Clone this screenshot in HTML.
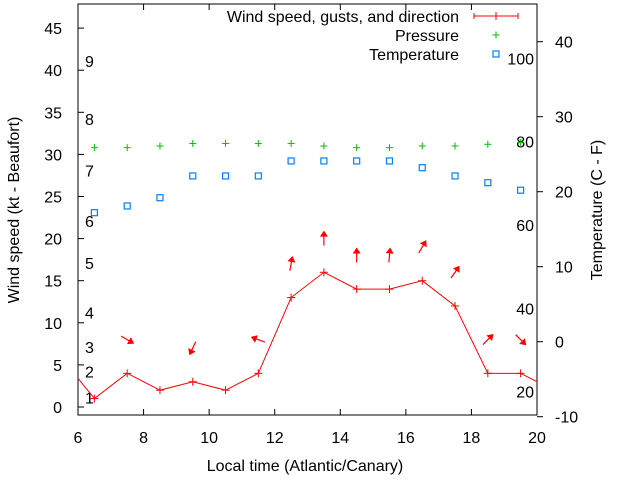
<!DOCTYPE html>
<html><head><meta charset="utf-8"><style>
body{margin:0;background:#fff}
svg{display:block;font-family:"Liberation Sans",sans-serif;font-size:16px}
</style></head><body>
<svg id="c" width="640" height="480"></svg>
<script>
const hours=[5.5,6.5,7.5,8.5,9.5,10.5,11.5,12.5,13.5,14.5,15.5,16.5,17.5,18.5,19.5,20.5];
const windKt=[5.8,1,4,2,3,2,4,13,16,14,14,15,12,4,4,2];
const windDir=[null,null,120,null,205,null,290,10,0,0,5,30,35,45,135,null];
const pHours=[6.5,7.5,8.5,9.5,10.5,11.5,12.5,13.5,14.5,15.5,16.5,17.5,18.5,19.5];
const pressure=[30.8,30.8,31.0,31.3,31.3,31.3,31.3,31.0,30.8,30.8,31.0,31.0,31.2,31.4];
const tempC=[17.2,18.1,19.2,22.1,22.1,22.1,24.1,24.1,24.1,24.1,23.2,22.1,21.2,20.2];
const xTicks=[6,8,10,12,14,16,18,20];
const yTicks=[0,5,10,15,20,25,30,35,40,45];
const y2Ticks=[-10,0,10,20,30,40];
const beaufortLabels=["1","2","3","4","5","6","7","8","9"];
const beaufortKt=[1.1,4.2,7.1,11.2,17.1,22.1,28.1,34.2,41.1];
const fLabels=[20,40,60,80,100];

const NS="http://www.w3.org/2000/svg";
const svg=document.getElementById('c');
const L=78,R=537,T=4,B=415;
const X=h=>L+(h-6)*(R-L)/14;
const Y=v=>407-v*8.42;
const Y2=c=>341.7-c*7.5;
function mk(tag,attrs,parent){const e=document.createElementNS(NS,tag);for(const k in attrs)e.setAttribute(k,attrs[k]);(parent||svg).appendChild(e);return e;}
function txt(s,x,y,anchor,parent){const t=mk('text',{x:x,y:y,'text-anchor':anchor||'middle',fill:'#000'},parent);t.textContent=s;return t;}

const clip=mk('clipPath',{id:'pc'});mk('rect',{x:L,y:T,width:R-L,height:B-T},clip);

const frame=mk('rect',{x:L,y:T,width:R-L,height:B-T,fill:'none',stroke:'#000','stroke-width':1});



const xg=mk('g',{});


xTicks.forEach(h=>{
  mk('line',{x1:X(h),x2:X(h),y1:B,y2:B-6,stroke:'#000'},xg);
  mk('line',{x1:X(h),x2:X(h),y1:T,y2:T+6,stroke:'#000'},xg);
  const t=txt(String(h),X(h),443,'middle',xg);
  
  
});
const yg=mk('g',{});


yTicks.forEach(v=>{
  mk('line',{x1:L,x2:L+6,y1:Y(v),y2:Y(v),stroke:'#000'},yg);
  const t=txt(String(v),62,Y(v)+6,'end',yg);
  
  
});
const y2g=mk('g',{});


y2Ticks.forEach(v=>{
  mk('line',{x1:R,x2:R+6,y1:Y2(v),y2:Y2(v),stroke:'#000'},y2g);
  const t=txt(String(v),555,Y2(v)+6,'start',y2g);
  
  
});
beaufortLabels.forEach((s,i)=>{
  const t=txt(s,85,Y(beaufortKt[i])+6,'start');
  
  
});
fLabels.forEach(f=>{
  const t=txt(String(f),534,Y2((f-32)*5/9)+6,'end');
  
  
});

const xt=txt('Local time (Atlantic/Canary)',305,471);


const yt=txt('Wind speed (kt - Beaufort)',0,0);
yt.setAttribute('transform','translate(19,210) rotate(-90)');


const y2t=txt('Temperature (C - F)',0,0);
y2t.setAttribute('transform','translate(602,210) rotate(-90)');



const plot=mk('g',{'clip-path':'url(#pc)'});
const wl=mk('polyline',{points:hours.map((h,i)=>X(h)+','+Y(windKt[i])).join(' '),fill:'none',stroke:'#f00','stroke-width':1},plot);


hours.forEach((h,i)=>{
  const g=mk('g',{stroke:'#f00'},plot);
  
  
  const x=X(h),y=Y(windKt[i]);
  mk('line',{x1:x-4,x2:x+4,y1:y,y2:y},g);mk('line',{x1:x,x2:x,y1:y-4,y2:y+4},g);
  if(windDir[i]!==null){
    const ay=Y(windKt[i]+4);
    const a=mk('g',{transform:`translate(${x},${ay}) rotate(${windDir[i]})`},plot);
    
    
    mk('line',{x1:0,y1:7,x2:0,y2:-4,stroke:'#f00','stroke-width':1.2},a);
    mk('polygon',{points:'0,-8 -4,-2 4,-2',fill:'#f00'},a);
  }
});
pHours.forEach((h,i)=>{
  const g=mk('g',{stroke:'#00c000'},plot);
  
  
  const x=X(h),y=Y(pressure[i]);
  mk('line',{x1:x-3.5,x2:x+3.5,y1:y,y2:y},g);mk('line',{x1:x,x2:x,y1:y-3.5,y2:y+3.5},g);
  const r=mk('rect',{x:x-3,y:Y2(tempC[i])-3,width:6,height:6,fill:'none',stroke:'#0080ff','stroke-width':1.2},plot);
  
  
});

const lg=mk('g',{});


const e1=mk('g',{},lg);


txt('Wind speed, gusts, and direction',459,22,'end',e1);
mk('line',{x1:474,x2:518,y1:16,y2:16,stroke:'#f00'},e1);
mk('line',{x1:474,x2:474,y1:13,y2:19,stroke:'#f00'},e1);
mk('line',{x1:518,x2:518,y1:13,y2:19,stroke:'#f00'},e1);
mk('line',{x1:496,x2:496,y1:12,y2:20,stroke:'#f00'},e1);
const e2=mk('g',{},lg);


txt('Pressure',459,41,'end',e2);
mk('line',{x1:492.5,x2:499.5,y1:35,y2:35,stroke:'#00c000'},e2);
mk('line',{x1:496,x2:496,y1:31.5,y2:38.5,stroke:'#00c000'},e2);
const e3=mk('g',{},lg);


txt('Temperature',459,60,'end',e3);
mk('rect',{x:493,y:51,width:6,height:6,fill:'none',stroke:'#0080ff','stroke-width':1.2},e3);
</script>
</body></html>
